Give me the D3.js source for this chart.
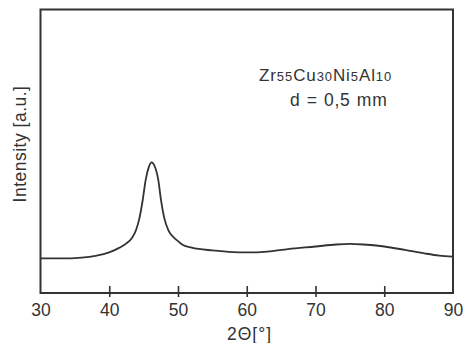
<!DOCTYPE html>
<html><head><meta charset="utf-8">
<script src="https://cdn.jsdelivr.net/npm/d3@7"></script>
<style>body{margin:0;background:#fff}svg{display:block}text{font-family:"Liberation Sans",Arial,sans-serif;fill:#333}</style>
</head><body>
<svg id="c" width="469" height="343"></svg>
<script>
const twoTheta = [30,33,36,38,40,41.5,42.5,43.3,43.9,44.4,44.87,45.3,45.75,46.17,46.6,47.13,47.53,48,48.59,49.3,50,50.73,52,55,58,60,63,66,70,73,75,77,80,83,86,88,90];
const intensity = [12.2,12.2,12.5,13.1,14.3,16.0,17.5,19.4,22.2,26.5,32.8,39.9,44.4,46.1,44.8,39.9,32.8,26.5,22.2,19.8,18.3,16.9,16.0,15.0,14.4,14.3,14.6,15.5,16.4,17.1,17.3,17.1,16.4,15.2,13.9,13.2,12.8];
const xTicks = [30,40,50,60,70,80,90];
const xLabel = "2Θ[°]";
const yLabel = "Intensity [a.u.]";

const svg = d3.select("#c");
const L=40.5,R=453,T=9.5,B=293;
const x = d3.scaleLinear().domain([30,90]).range([L,R]);
const y = d3.scaleLinear().domain([0,100]).range([B,T]);
const data = twoTheta.map((t,i)=>({t,v:intensity[i]}));

svg.append("path").datum(data)
  .attr("fill","none").attr("stroke","#333").attr("stroke-width",1.8)
  .attr("d",d3.line().x(d=>x(d.t)).y(d=>y(d.v)).curve(d3.curveMonotoneX));

svg.append("rect").attr("x",L).attr("y",T).attr("width",R-L).attr("height",B-T)
  .attr("fill","none").attr("stroke","#333").attr("stroke-width",2);

const ax = svg.append("g").attr("transform",`translate(0,${B})`)
  .call(d3.axisBottom(x).tickValues(xTicks).tickSize(4).tickPadding(6.3).tickFormat(d3.format("d")));
ax.select(".domain").remove();
ax.selectAll(".tick line").attr("y1",-7).attr("y2",4).attr("stroke","#333").attr("stroke-width",1.6)
  .filter(d=>d===30||d===90).remove();
ax.selectAll(".tick text").attr("font-size",17.5).attr("fill","#333").attr("font-family","Liberation Sans, Arial, sans-serif");

svg.append("text").attr("x",249.5).attr("y",340).attr("text-anchor","middle").attr("font-size",17.5).attr("letter-spacing",1).text(xLabel);
svg.append("text").attr("transform","translate(26,144) rotate(-90)").attr("text-anchor","middle").attr("font-size",17.5).attr("letter-spacing",0.5).text(yLabel);

const t1 = svg.append("text").attr("x",259).attr("y",80.7).attr("font-size",17).attr("letter-spacing",0.9);
[["Zr",17],["55",13],["Cu",17],["30",13],["Ni",17],["5",13],["Al",17],["10",13]].forEach(([s,f])=>t1.append("tspan").attr("font-size",f).text(s));
svg.append("text").attr("x",290).attr("y",106).attr("font-size",17.5).attr("letter-spacing",0.7).attr("word-spacing",0.8).text("d = 0,5 mm");
</script>
</body></html>
